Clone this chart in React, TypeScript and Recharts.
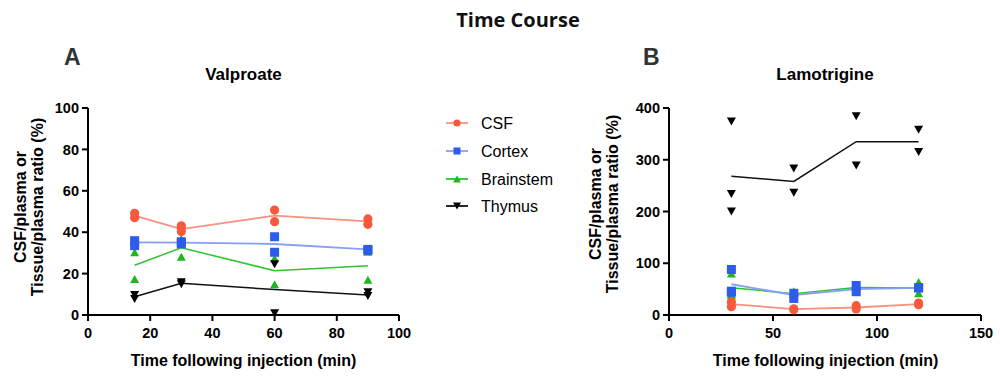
import React from 'react';
import { ComposedChart, Line, Scatter, XAxis, YAxis } from 'recharts';

// ---------- Panel A: Valproate ----------
const timesA = [15, 30, 60, 90];
const csfA = [[49.1, 47.0], [43.1, 42.2, 40.3], [50.7, 45.1], [46.4, 43.8]];
const cortexA = [[35.9, 33.5], [35.4, 34.4], [37.8, 30.3], [31.7, 31.2]];
const brainstemA = [[30.3, 17.4], [28.2, 36.8], [27.4, 14.8], [30.5, 17.0]];
const thymusA = [[9.7, 7.7], [15.8, 14.8], [24.5, 0.8], [11.0, 9.2]];
const csfMeanA = [48.0, 41.5, 48.0, 45.2];
const cortexMeanA = [35.1, 35.0, 34.3, 31.7];
const brainstemMeanA = [24.0, 32.5, 21.4, 23.8];
const thymusMeanA = [8.8, 15.3, 12.3, 9.7];
const xTicksA = [0, 20, 40, 60, 80, 100];
const yTicksA = [0, 20, 40, 60, 80, 100];

// ---------- Panel B: Lamotrigine ----------
const timesB = [30, 60, 90, 120];
const csfB = [[25, 16], [12, 10], [18, 11.6], [23, 20]];
const cortexB = [[88, 46, 44], [42, 32], [57, 45], [53, 52]];
const brainstemB = [[80, 40, 38], [46, 36], [55, 51], [64, 42]];
const thymusB = [[374, 234, 200], [283, 236], [384, 289], [358, 315]];
const csfMeanB = [21, 11.5, 14.5, 21];
const cortexMeanB = [59.4, 38.7, 50, 52.5];
const brainstemMeanB = [52.8, 41, 53, 52];
const thymusMeanB = [268, 258, 335, 335];
const xTicksB = [0, 50, 100, 150];
const yTicksB = [0, 100, 200, 300, 400];

const seriesNames = ['CSF', 'Cortex', 'Brainstem', 'Thymus'];

const COL = {
  csf: '#F8583C',
  csfLine: '#F99080',
  cortex: '#2F5BEC',
  cortexLine: '#86A0F4',
  brain: '#1DB81D',
  brainLine: '#2EC42E',
  thymus: '#000000',
  thymusLine: '#111111',
};

const FONT = "'Liberation Sans', Arial, Helvetica, sans-serif";

const toPoints = (times: number[], reps: number[][]) =>
  times.flatMap((t, i) => reps[i].map((v) => ({ x: t, y: v })));
const toLine = (times: number[], means: number[]) =>
  times.map((t, i) => ({ x: t, y: means[i] }));

const circleShape = (color: string, r: number) => (p: any) =>
  <circle cx={p.cx} cy={p.cy} r={r} fill={color} />;
const squareShape = (color: string, s: number) => (p: any) =>
  <rect x={p.cx - s / 2} y={p.cy - s / 2} width={s} height={s} fill={color} />;
const triUpShape = (color: string, w: number, h: number) => (p: any) =>
  <polygon points={`${p.cx - w / 2},${p.cy + h / 2} ${p.cx + w / 2},${p.cy + h / 2} ${p.cx},${p.cy - h / 2}`} fill={color} />;
const triDownShape = (color: string, w: number, h: number) => (p: any) =>
  <polygon points={`${p.cx - w / 2},${p.cy - h / 2} ${p.cx + w / 2},${p.cy - h / 2} ${p.cx},${p.cy + h / 2}`} fill={color} />;

const tickStyle = { fill: '#000', fontSize: 14.5, fontWeight: 700, fontFamily: FONT };
const axisLine = { stroke: '#000', strokeWidth: 2 };

type PanelProps = {
  left: number;
  width: number;
  yAxisWidth: number;
  marginRight: number;
  times: number[];
  csf: number[][];
  cortex: number[][];
  brain: number[][];
  thymus: number[][];
  csfMean: number[];
  cortexMean: number[];
  brainMean: number[];
  thymusMean: number[];
  xTicks: number[];
  yTicks: number[];
};

function Panel(props: PanelProps) {
  const xMax = props.xTicks[props.xTicks.length - 1];
  const yMax = props.yTicks[props.yTicks.length - 1];
  return (
    <div style={{ position: 'absolute', left: props.left, top: 0 }}>
      <ComposedChart
        width={props.width}
        height={378}
        margin={{ top: 108, right: props.marginRight, bottom: 33, left: 0 }}
      >
        <XAxis
          type="number"
          dataKey="x"
          domain={[0, xMax]}
          ticks={props.xTicks}
          interval={0}
          height={30}
          tickSize={6}
          tickMargin={7}
          axisLine={axisLine}
          tickLine={axisLine}
          tick={tickStyle}
          allowDataOverflow
        />
        <YAxis
          type="number"
          dataKey="y"
          domain={[0, yMax]}
          ticks={props.yTicks}
          interval={0}
          width={props.yAxisWidth}
          tickSize={6}
          tickMargin={3}
          axisLine={axisLine}
          tickLine={axisLine}
          tick={tickStyle}
          allowDataOverflow
        />
        <Line data={toLine(props.times, props.brainMean)} dataKey="y" stroke={COL.brainLine} strokeWidth={1.5} dot={false} isAnimationActive={false} type="linear" />
        <Line data={toLine(props.times, props.cortexMean)} dataKey="y" stroke={COL.cortexLine} strokeWidth={1.8} dot={false} isAnimationActive={false} type="linear" />
        <Line data={toLine(props.times, props.csfMean)} dataKey="y" stroke={COL.csfLine} strokeWidth={1.8} dot={false} isAnimationActive={false} type="linear" />
        <Line data={toLine(props.times, props.thymusMean)} dataKey="y" stroke={COL.thymusLine} strokeWidth={1.5} dot={false} isAnimationActive={false} type="linear" />
        <Scatter data={toPoints(props.times, props.brain)} dataKey="y" shape={triUpShape(COL.brain, 9, 8)} isAnimationActive={false} />
        <Scatter data={toPoints(props.times, props.cortex)} dataKey="y" shape={squareShape(COL.cortex, 9)} isAnimationActive={false} />
        <Scatter data={toPoints(props.times, props.csf)} dataKey="y" shape={circleShape(COL.csf, 4.6)} isAnimationActive={false} />
        <Scatter data={toPoints(props.times, props.thymus)} dataKey="y" shape={triDownShape(COL.thymus, 9, 8)} isAnimationActive={false} />
      </ComposedChart>
    </div>
  );
}

function LegendMarker({ i, cx, cy }: { i: number; cx: number; cy: number }) {
  const p = { cx, cy };
  if (i === 0) return circleShape(COL.csf, 3.6)(p);
  if (i === 1) return squareShape(COL.cortex, 7)(p);
  if (i === 2) return triUpShape(COL.brain, 8, 7)(p);
  return triDownShape(COL.thymus, 8, 7)(p);
}

const legendLineColors = [COL.csfLine, COL.cortexLine, COL.brainLine, COL.thymusLine];
const legendRowsY = [123, 151, 179, 206];

export default function App() {
  return (
    <div style={{ position: 'absolute', left: 0, top: 0, width: 1000, height: 378, background: '#fff', overflow: 'hidden' }}>
      <Panel
        left={0}
        width={420}
        yAxisWidth={88}
        marginRight={21}
        times={timesA}
        csf={csfA}
        cortex={cortexA}
        brain={brainstemA}
        thymus={thymusA}
        csfMean={csfMeanA}
        cortexMean={cortexMeanA}
        brainMean={brainstemMeanA}
        thymusMean={thymusMeanA}
        xTicks={xTicksA}
        yTicks={yTicksA}
      />
      <Panel
        left={580}
        width={420}
        yAxisWidth={89}
        marginRight={19}
        times={timesB}
        csf={csfB}
        cortex={cortexB}
        brain={brainstemB}
        thymus={thymusB}
        csfMean={csfMeanB}
        cortexMean={cortexMeanB}
        brainMean={brainstemMeanB}
        thymusMean={thymusMeanB}
        xTicks={xTicksB}
        yTicks={yTicksB}
      />
      <svg width={1000} height={378} style={{ position: 'absolute', left: 0, top: 0, pointerEvents: 'none' }}>
        <text x={518} y={27} textAnchor="middle" fontFamily="'Open Sans', sans-serif" fontWeight={700} fontSize={20} fill="#111">Time Course</text>
        <text x={64} y={65} fontFamily={FONT} fontWeight={700} fontSize={23} fill="#333">A</text>
        <text x={643} y={65} fontFamily={FONT} fontWeight={700} fontSize={23} fill="#333">B</text>
        <text x={243.5} y={80} textAnchor="middle" fontFamily={FONT} fontWeight={700} fontSize={17} fill="#000">Valproate</text>
        <text x={825} y={80} textAnchor="middle" fontFamily={FONT} fontWeight={700} fontSize={17} fill="#000">Lamotrigine</text>
        <text x={243.5} y={366} textAnchor="middle" fontFamily={FONT} fontWeight={700} fontSize={16} fill="#000">Time following injection (min)</text>
        <text x={825.5} y={366} textAnchor="middle" fontFamily={FONT} fontWeight={700} fontSize={16} fill="#000">Time following injection (min)</text>
        <text transform="translate(26,207) rotate(-90)" textAnchor="middle" fontFamily={FONT} fontWeight={700} fontSize={16} fill="#000">CSF/plasma or</text>
        <text transform="translate(43,207) rotate(-90)" textAnchor="middle" fontFamily={FONT} fontWeight={700} fontSize={16} fill="#000">Tissue/plasma ratio (%)</text>
        <text transform="translate(601,204) rotate(-90)" textAnchor="middle" fontFamily={FONT} fontWeight={700} fontSize={16} fill="#000">CSF/plasma or</text>
        <text transform="translate(618,204) rotate(-90)" textAnchor="middle" fontFamily={FONT} fontWeight={700} fontSize={16} fill="#000">Tissue/plasma ratio (%)</text>
        {seriesNames.map((name, i) => (
          <g key={name}>
            <line x1={446} x2={468} y1={legendRowsY[i]} y2={legendRowsY[i]} stroke={legendLineColors[i]} strokeWidth={1.8} />
            <LegendMarker i={i} cx={457} cy={legendRowsY[i]} />
            <text x={481} y={legendRowsY[i] + 5.5} fontFamily={FONT} fontSize={16} fill="#000">{name}</text>
          </g>
        ))}
      </svg>
    </div>
  );
}
